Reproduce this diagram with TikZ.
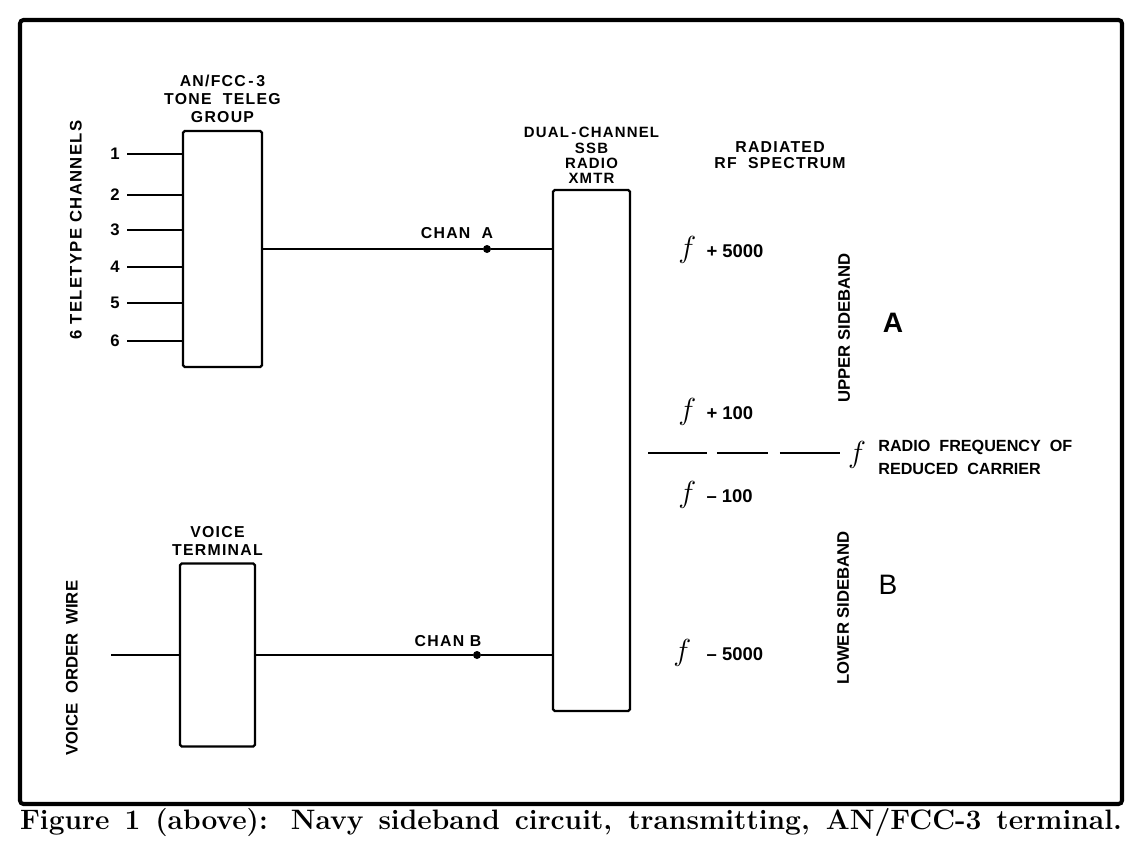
\documentclass[tikz,border=0pt]{standalone}
\usepackage{fontspec}
\usepackage{tikz}
\usetikzlibrary{positioning}
\newfontfamily\lettering{Liberation Sans}
\newfontfamily\spacedlettering[LetterSpace=8]{Liberation Sans}
\newcommand{\bigf}{{\fontsize{19}{19}\selectfont$f$}}
\tikzstyle{unit} = [rectangle, draw=black, line width=1.3pt, rounded corners=1pt, inner sep=0pt]
\tikzstyle{wire} = [draw=black, line width=1pt]
\tikzstyle{tag} = [font={\spacedlettering\bfseries\fontsize{9}{10.2}\selectfont}, align=center, inner sep=1pt]
\tikzstyle{vtag} = [font={\lettering\bfseries\fontsize{9.5}{11}\selectfont}, rotate=90, inner sep=1pt]
\tikzstyle{bigtag} = [font={\lettering\bfseries\fontsize{9.5}{12}\selectfont}, inner sep=1pt]
\tikzstyle{freq} = [anchor=west, inner sep=0pt, font={\lettering\bfseries\fontsize{10.5}{12}\selectfont}]
\tikzstyle{bandletter} = [font={\lettering\bfseries\fontsize{16}{16}\selectfont}, inner sep=0pt]
\tikzstyle{junction} = [circle, fill=black, inner sep=0pt, minimum size=0.16cm]

\begin{document}
\begin{tikzpicture}[x=0.02cm, y=-0.02cm]
\useasboundingbox (0,0) rectangle (1138,848);
\draw[line width=2.3pt, rounded corners=2pt] (20,20) rectangle (1122,804);

% tone telegraph group
\node (tone) [unit, minimum width=1.58cm, minimum height=4.72cm] at (222.5,249) {};
\node (tonelabel) [tag, above=3pt of tone] {AN/FCC\,-\,3\\TONE\ \ TELEG\\GROUP};
\node (teletype) [vtag, font={\spacedlettering\bfseries\fontsize{9.5}{11}\selectfont}] at (76,230) {6 TELETYPE CHANNELS};
\node (n1) [bigtag] at (115,154) {1};
\node (n2) [bigtag] at (115,195) {2};
\node (n3) [bigtag] at (115,230) {3};
\node (n4) [bigtag] at (115,267) {4};
\node (n5) [bigtag] at (115,303) {5};
\node (n6) [bigtag] at (115,341) {6};
\draw[wire] ([xshift=3pt]n1.east) -- (n1 -| tone.west);
\draw[wire] ([xshift=3pt]n2.east) -- (n2 -| tone.west);
\draw[wire] ([xshift=3pt]n3.east) -- (n3 -| tone.west);
\draw[wire] ([xshift=3pt]n4.east) -- (n4 -| tone.west);
\draw[wire] ([xshift=3pt]n5.east) -- (n5 -| tone.west);
\draw[wire] ([xshift=3pt]n6.east) -- (n6 -| tone.west);

% transmitter
\node (xmtr) [unit, minimum width=1.54cm, minimum height=10.42cm] at (591.5,450.5) {};
\node (xmtrlabel) [tag, above=2pt of xmtr, font={\spacedlettering\bfseries\fontsize{8.5}{8.6}\selectfont}] {DUAL\,-\,CHANNEL\\SSB\\RADIO\\XMTR};
\node (dotA) [junction] at (487,249) {};
\node (chanA) [tag] at (457,233) {CHAN\ \ A};
\draw[wire] (tone.east) -- (dotA) -- (dotA -| xmtr.west);

% voice terminal
\node (voice) [unit, minimum width=1.5cm, minimum height=3.66cm] at (217.5,655) {};
\node (voicelabel) [tag, above=3pt of voice] {VOICE\\TERMINAL};
\node (orderwire) [vtag] at (72,668) {VOICE\ \ ORDER\ \ WIRE};
\coordinate (wirein) at (111,655);
\draw[wire] (wirein) -- (voice.west);
\node (dotB) [junction] at (477,655) {};
\node (chanB) [tag] at (448,641) {CHAN B};
\draw[wire] (voice.east) -- (dotB) -- (dotB -| xmtr.west);

% spectrum
\node (spectrum) [tag, font={\spacedlettering\bfseries\fontsize{9}{9.2}\selectfont}] at (780,155) {RADIATED\\RF\ \ SPECTRUM};
\node (usb5000) [freq] at (678,250) {\bigf\ \ + 5000};
\node (usb100) [freq] at (678,412) {\bigf\ \ + 100};
\node (lsb100) [freq] at (678,495) {\bigf\ \ – 100};
\node (lsb5000) [freq] at (673,653) {\bigf\ \ \ – 5000};
\node (usb) [vtag] at (844,328) {UPPER SIDEBAND};
\node (lsb) [vtag] at (843,608) {LOWER SIDEBAND};
\node (bandA) [bandletter] at (893,323) {A};
\node (bandB) [bandletter, font={\lettering\fontsize{16}{16}\selectfont}] at (888,585) {B};
\coordinate (carrierstart) at (648,453);
\coordinate (carrierend) at (840,453);
\draw[wire, dash pattern=on 1.18cm off 0.2cm on 1.02cm off 0.24cm on 1.2cm] (carrierstart) -- (carrierend);
\node (fc) [inner sep=0pt] at (857,455) {\bigf};
\node (carrier) [anchor=west, align=left, inner sep=0pt, font={\lettering\bfseries\fontsize{9.2}{13.2}\selectfont}] at (878,457.5) {RADIO\ \ FREQUENCY\ \ OF\\REDUCED\ \ CARRIER};

% caption
\node (caption) [inner sep=0pt] at (571,822) {\makebox[22.04cm][s]{\fontsize{16}{18}\selectfont\bfseries Figure 1 (above): Navy sideband circuit, transmitting, AN/FCC-3 terminal.}};
\end{tikzpicture}
\end{document}
